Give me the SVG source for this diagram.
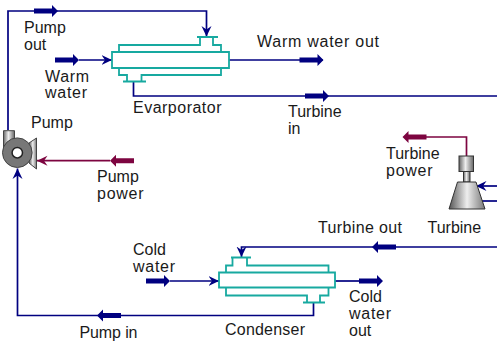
<svg xmlns="http://www.w3.org/2000/svg" width="497" height="343" viewBox="0 0 497 343">
<defs>
<marker id="a" markerUnits="userSpaceOnUse" markerWidth="12" markerHeight="12" refX="10.500" refY="6" orient="auto"><path d="M0 1L10.500 6L0 11L3.500 6Z" fill="#000080"/></marker>
<marker id="p" markerUnits="userSpaceOnUse" markerWidth="12" markerHeight="12" refX="10.500" refY="6" orient="auto"><path d="M0 1L10.500 6L0 11L3.500 6Z" fill="#7d0540"/></marker>
<path id="t" d="M-24-2.500H-6V-6L0 0L-6 6V2.500H-24Z"/>
<linearGradient id="cyl" x1="0" x2="1" y1="0" y2="0"><stop offset="0" stop-color="#666"/><stop offset=".45" stop-color="#eee"/><stop offset="1" stop-color="#666"/></linearGradient>
<linearGradient id="cone" x1="0" x2="1" y1="0" y2="0"><stop offset="0" stop-color="#555"/><stop offset=".5" stop-color="#eee"/><stop offset="1" stop-color="#777"/></linearGradient>
</defs>
<style>
text{font-family:"Liberation Sans",Arial,sans-serif;font-size:16px;fill:#1a1a1a}
.s{fill:none;stroke:#000080;stroke-width:1.700}
.m{fill:none;stroke:#7d0540;stroke-width:1.700}
.hx{fill:none;stroke:#17a9a0;stroke-width:1.800}
.b{fill:#000080}
.r{fill:#7d0540}
</style>
<rect width="497" height="343" fill="#fff"/>
<g id="connectors">
<path class="s" d="M8 130V11H206.500V36.500" marker-end="url(#a)"/>
<use href="#t" class="b" transform="translate(58 11)"/>
<path class="s" d="M79 60H112" marker-end="url(#a)"/>
<use href="#t" class="b" transform="translate(79 60)"/>
<path class="s" d="M229 60H323"/>
<use href="#t" class="b" transform="translate(323.500 60)"/>
<path class="s" d="M133.500 82V96H497"/>
<use href="#t" class="b" transform="translate(329 96)"/>
<path class="s" d="M313.500 303V315.500H17.500V168.500" marker-end="url(#a)"/>
<use href="#t" class="b" transform="translate(97 315.500) rotate(180)"/>
<path class="s" d="M497 247H241.500V257" marker-end="url(#a)"/>
<use href="#t" class="b" transform="translate(372 247) rotate(180)"/>
<path class="s" d="M170 281H219" marker-end="url(#a)"/>
<use href="#t" class="b" transform="translate(170 281)"/>
<path class="s" d="M335 281H360"/>
<use href="#t" class="b" transform="translate(383 281)"/>
<path class="s" d="M497 186H476" marker-end="url(#a)"/>
<path class="s" d="M480 201H497"/>
<path class="m" d="M110 160.700H37" marker-end="url(#p)"/>
<use href="#t" class="r" transform="translate(110 160.700) rotate(180)"/>
<path class="m" d="M466.500 156V137H426"/>
<use href="#t" class="r" transform="translate(402.500 137) rotate(180)"/>
</g>
<g id="evaporator">
<path class="hx" d="M112 52H229V68H112Z"/>
<path class="hx" d="M119 52V45H200V37M197 37H218M213 37V45H221V52"/>
<path class="hx" d="M119 68V75H127V81.500M141.500 81.500V75H221V68M123 81.500H146"/>
</g>
<g id="condenser">
<path class="hx" d="M219 272.500H335V287.500H219Z"/>
<path class="hx" d="M226 272.500V265.500H232.500V257.500M231 257.500H251M247 257.500V265.500H328.500V272.500"/>
<path class="hx" d="M226 287.500V295.500H307V302.500M320 302.500V295.500H328.500V287.500M303 302.500H325"/>
</g>
<g id="pump">
<path d="M3.500 130.700H14.500V148H3.500Z" fill="url(#cyl)" stroke="#444"/>
<path d="M29 143L36.500 138V169L29 163Z" fill="url(#cone)" stroke="#444"/>
<circle cx="17.300" cy="152.700" r="14.800" fill="#777" stroke="#444"/>
<circle cx="17.300" cy="152.700" r="5.200" fill="#fff" stroke="#222" stroke-width="1.500"/>
</g>
<g id="turbine">
<rect x="459" y="156" width="14.500" height="15.500" fill="url(#cyl)" stroke="#333"/>
<rect x="463.500" y="171.500" width="6.500" height="10.500" fill="url(#cyl)" stroke="#333"/>
<path d="M457.500 182H476L485 209H449Z" fill="url(#cone)" stroke="#333"/>
</g>
<g id="labels">
<text x="24" y="32.500">Pump</text><text x="24" y="49.500">out</text>
<text x="45" y="81.500" textLength="44">Warm</text><text x="45" y="98" textLength="42">water</text>
<text x="133" y="112.500" textLength="88.500">Evarporator</text>
<text x="257" y="46.500" textLength="122">Warm water out</text>
<text x="288" y="117">Turbine</text><text x="288" y="134">in</text>
<text x="31" y="127.500">Pump</text>
<text x="97" y="182">Pump</text><text x="97" y="198.500" textLength="46.500">power</text>
<text x="386" y="159">Turbine</text><text x="386" y="175.500" textLength="46.500">power</text>
<text x="427.500" y="233">Turbine</text>
<text x="318" y="233" textLength="84">Turbine out</text>
<text x="133" y="255">Cold</text><text x="133" y="272" textLength="42">water</text>
<text x="349" y="302">Cold</text><text x="349" y="319" textLength="42">water</text><text x="349" y="336">out</text>
<text x="225" y="335" textLength="80">Condenser</text>
<text x="79.500" y="337.500" textLength="58">Pump in</text>
</g>
</svg>
